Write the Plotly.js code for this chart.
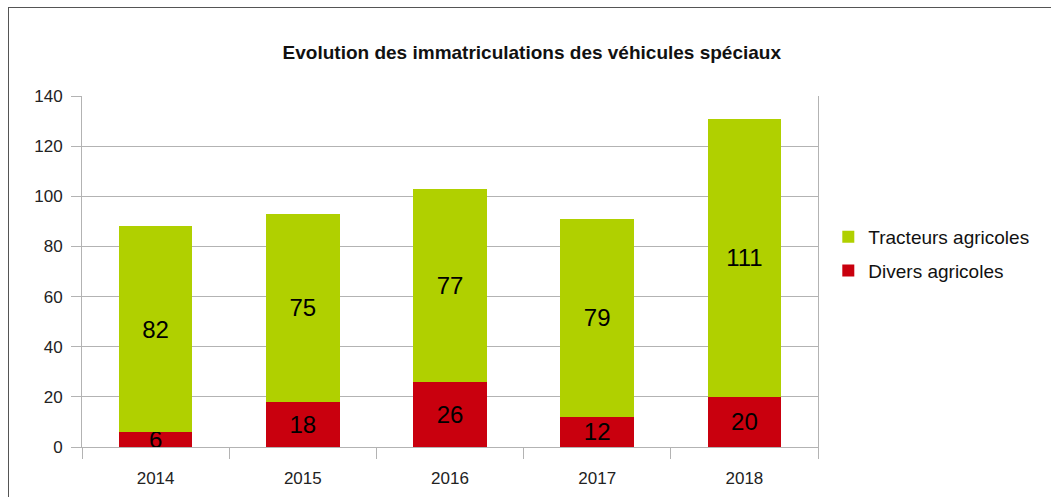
<!DOCTYPE html>
<html>
<head>
<meta charset="utf-8">
<script src="https://cdn.plot.ly/plotly-3.0.1.min.js"></script>
<style>
html,body{margin:0;padding:0;background:#fff;}
#wrap{position:relative;width:1051px;height:497px;overflow:hidden;}
#frame{position:absolute;left:8px;top:7px;width:1100px;height:600px;border-top:1px solid #555;border-left:1px solid #555;pointer-events:none;z-index:5;}
#chart{position:absolute;left:0;top:0;width:1051px;height:497px;}
</style>
</head>
<body>
<div id="wrap"><div id="chart"></div><div id="frame"></div></div>
<script>
const years = ['2014', '2015', '2016', '2017', '2018'];
const divers = [6, 18, 26, 12, 20];
const tracteurs = [82, 75, 77, 79, 111];
const yTicks = [0, 20, 40, 60, 80, 100, 120, 140];

const font = 'Liberation Sans, Arial, sans-serif';

const traces = [
  {
    type: 'bar', name: 'Divers agricoles', x: years, y: divers,
    legendgroup: 'divers', legendrank: 2,
    marker: {color: '#c9000e'},
    text: divers.map(String), textposition: 'inside', insidetextanchor: 'middle',
    constraintext: 'none', textangle: 0,
    insidetextfont: {family: font, size: 24, color: '#000'},
    hoverinfo: 'none'
  },
  {
    type: 'bar', name: 'Tracteurs agricoles', x: years, y: tracteurs,
    legendgroup: 'tracteurs', legendrank: 1,
    marker: {color: '#b0d000'},
    text: tracteurs.map(String), textposition: 'inside', insidetextanchor: 'middle',
    constraintext: 'none', textangle: 0,
    insidetextfont: {family: font, size: 24, color: '#000'},
    hoverinfo: 'none'
  }
];

const layout = {
  width: 1051, height: 497,
  margin: {l: 82, r: 233, t: 96, b: 50},
  paper_bgcolor: '#fff', plot_bgcolor: '#fff',
  barmode: 'stack', bargap: 0.5,
  font: {family: font, size: 17, color: '#222'},
  title: {
    text: '<b>Evolution des immatriculations des véhicules spéciaux</b>',
    font: {family: font, size: 19, color: '#111'},
    x: 0.506, xref: 'container', xanchor: 'center',
    y: 0.895, yref: 'container', yanchor: 'middle'
  },
  xaxis: {
    type: 'category', tickson: 'boundaries', ticks: 'outside', ticklen: 11,
    tickcolor: '#b3b3b3', tickwidth: 1, showgrid: false,
    showline: true, linecolor: '#b3b3b3', linewidth: 1,
    ticklabelstandoff: 16,
    tickfont: {family: font, size: 17, color: '#222'}, fixedrange: true
  },
  yaxis: {
    range: [0, 140], tickvals: yTicks, ticktext: yTicks.map(String),
    ticks: 'outside', ticklen: 10, tickcolor: '#b3b3b3',
    showgrid: true, gridcolor: '#b3b3b3', gridwidth: 1,
    showline: true, linecolor: '#b3b3b3', linewidth: 1, mirror: true,
    zeroline: false, ticklabelstandoff: 5,
    tickfont: {family: font, size: 17, color: '#222'}, fixedrange: true
  },
  legend: {
    x: 1.014, xanchor: 'left', y: 0.55, yanchor: 'middle',
    traceorder: 'grouped',
    font: {family: font, size: 19, color: '#111'},
    itemwidth: 30, tracegroupgap: 6
  },
  showlegend: true
};

Plotly.newPlot('chart', traces, layout, {displayModeBar: false, staticPlot: true});
</script>
</body>
</html>
